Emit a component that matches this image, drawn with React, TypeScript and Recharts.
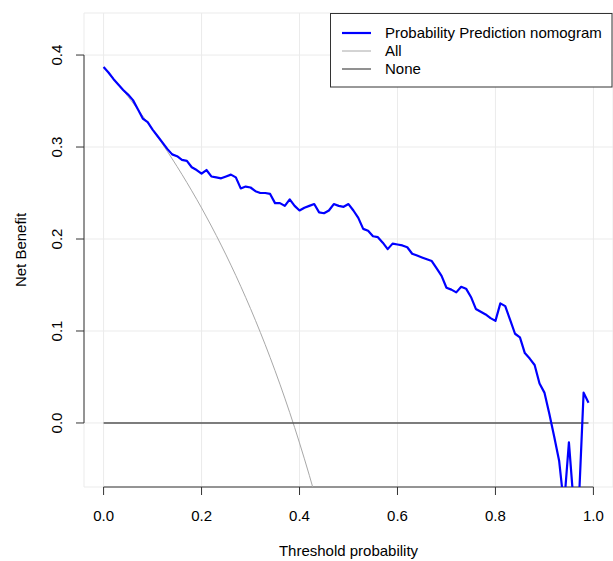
import React from 'react';
import { LineChart, Line, XAxis, YAxis, CartesianGrid, ReferenceLine, Label } from 'recharts';

const thresholds = [
  0.00, 0.01, 0.02, 0.03, 0.04, 0.05, 0.06, 0.07, 0.08, 0.09,
  0.10, 0.11, 0.12, 0.13, 0.14, 0.15, 0.16, 0.17, 0.18, 0.19,
  0.20, 0.21, 0.22, 0.23, 0.24, 0.25, 0.26, 0.27, 0.28, 0.29,
  0.30, 0.31, 0.32, 0.33, 0.34, 0.35, 0.36, 0.37, 0.38, 0.39,
  0.40, 0.41, 0.42, 0.43, 0.44, 0.45, 0.46, 0.47, 0.48, 0.49,
  0.50, 0.51, 0.52, 0.53, 0.54, 0.55, 0.56, 0.57, 0.58, 0.59,
  0.60, 0.61, 0.62, 0.63, 0.64, 0.65, 0.66, 0.67, 0.68, 0.69,
  0.70, 0.71, 0.72, 0.73, 0.74, 0.75, 0.76, 0.77, 0.78, 0.79,
  0.80, 0.81, 0.82, 0.83, 0.84, 0.85, 0.86, 0.87, 0.88, 0.89,
  0.90, 0.91, 0.92, 0.93, 0.94, 0.95, 0.96, 0.97, 0.98, 0.99,
];

const modelNetBenefit = [
  0.387, 0.381, 0.374, 0.368, 0.362, 0.357, 0.351, 0.341, 0.331, 0.327,
  0.319, 0.312, 0.305, 0.298, 0.292, 0.290, 0.286, 0.285, 0.278, 0.275,
  0.271, 0.275, 0.268, 0.267, 0.266, 0.268, 0.270, 0.267, 0.255, 0.257,
  0.256, 0.252, 0.250, 0.250, 0.249, 0.239, 0.239, 0.236, 0.243, 0.236,
  0.231, 0.234, 0.236, 0.238, 0.229, 0.228, 0.231, 0.238, 0.236, 0.235,
  0.238, 0.231, 0.223, 0.211, 0.209, 0.203, 0.202, 0.196, 0.189, 0.195,
  0.194, 0.193, 0.191, 0.184, 0.182, 0.180, 0.178, 0.176, 0.168, 0.160,
  0.147, 0.145, 0.142, 0.148, 0.146, 0.137, 0.124, 0.121, 0.118, 0.114,
  0.111, 0.130, 0.127, 0.112, 0.097, 0.093, 0.076, 0.070, 0.063, 0.043,
  0.033, 0.010, -0.015, -0.041, -0.090, -0.021, -0.090, -0.090, 0.033, 0.022,
];

const allNetBenefit = [
  0.3870, 0.3808, 0.3745, 0.3680, 0.3615, 0.3547, 0.3479, 0.3409, 0.3337, 0.3264,
  0.3189, 0.3112, 0.3034, 0.2954, 0.2872, 0.2788, 0.2702, 0.2614, 0.2524, 0.2432,
  0.2338, 0.2240, 0.2141, 0.2039, 0.1934, 0.1827, 0.1716, 0.1603, 0.1486, 0.1366,
  0.1243, 0.1116, 0.0985, 0.0851, 0.0712, 0.0569, 0.0422, 0.0270, 0.0113, -0.0049,
  -0.0217, -0.0390, -0.0569, -0.0754, -0.0946,
];

const noneNetBenefit = [
  0, 0, 0, 0, 0, 0, 0, 0, 0, 0,
  0, 0, 0, 0, 0, 0, 0, 0, 0, 0,
  0, 0, 0, 0, 0, 0, 0, 0, 0, 0,
  0, 0, 0, 0, 0, 0, 0, 0, 0, 0,
  0, 0, 0, 0, 0, 0, 0, 0, 0, 0,
  0, 0, 0, 0, 0, 0, 0, 0, 0, 0,
  0, 0, 0, 0, 0, 0, 0, 0, 0, 0,
  0, 0, 0, 0, 0, 0, 0, 0, 0, 0,
  0, 0, 0, 0, 0, 0, 0, 0, 0, 0,
  0, 0, 0, 0, 0, 0, 0, 0, 0, 0,
];

const xTicks = [0, 0.2, 0.4, 0.6, 0.8, 1.0];
const yTicks = [0, 0.1, 0.2, 0.3, 0.4];
const seriesNames = ['Probability Prediction nomogram', 'All', 'None'];

const X_MIN = -0.04;
const X_MAX = 1.04;
const Y_MIN = -0.0696;
const Y_MAX = 0.4457;

const FONT = '"Liberation Sans", Arial, Helvetica, sans-serif';
const FS = 15;

const data = thresholds.map((t, i) => ({
  t,
  model: modelNetBenefit[i],
  all: i < allNetBenefit.length ? allNetBenefit[i] : null,
  none: noneNetBenefit[i],
}));

const XTick = (props: any) => {
  const { x, y, payload } = props;
  return (
    <text x={x} y={y + 23.5} textAnchor="middle" fontSize={FS} fontFamily={FONT} fill="#000">
      {Number(payload.value).toFixed(1)}
    </text>
  );
};

const YTick = (props: any) => {
  const { x, y, payload } = props;
  const bx = x - 11.6;
  return (
    <text
      x={bx}
      y={y}
      textAnchor="middle"
      fontSize={FS}
      fontFamily={FONT}
      fill="#000"
      transform={`rotate(-90 ${bx} ${y})`}
    >
      {Number(payload.value).toFixed(1)}
    </text>
  );
};

const XTitle = (props: any) => {
  const vb = props.viewBox || { x: 84, y: 487, width: 529, height: 74 };
  return (
    <text x={vb.x + vb.width / 2} y={vb.y + 69.4} textAnchor="middle" fontSize={FS} fontFamily={FONT} fill="#000">
      Threshold probability
    </text>
  );
};

const YTitle = (props: any) => {
  const vb = props.viewBox || { x: 0, y: 13, width: 84, height: 474 };
  const cx = vb.x + 26.4;
  const cy = vb.y + vb.height / 2;
  return (
    <text x={cx} y={cy} textAnchor="middle" fontSize={FS} fontFamily={FONT} fill="#000" transform={`rotate(-90 ${cx} ${cy})`}>
      Net Benefit
    </text>
  );
};

const legendStyles = [
  { color: '#0000FF', width: 2.2 },
  { color: '#A8A8A8', width: 1 },
  { color: '#555555', width: 1.3 },
];

const LegendBox = () => (
  <svg
    width={283}
    height={75}
    style={{ position: 'absolute', left: 330, top: 13, overflow: 'visible' }}
  >
    <rect x={0.5} y={0.5} width={281.5} height={73.5} fill="#fff" stroke="#333" strokeWidth={1} />
    {seriesNames.map((name, i) => (
      <g key={name}>
        <line x1={12} x2={41} y1={20 + i * 18} y2={20 + i * 18} stroke={legendStyles[i].color} strokeWidth={legendStyles[i].width} />
        <text x={55} y={20 + i * 18 + 5.4} fontSize={FS} fontFamily={FONT} fill="#000">
          {name}
        </text>
      </g>
    ))}
  </svg>
);

export default function App() {
  return (
    <div style={{ position: 'absolute', left: 0, top: 0, width: 613, height: 561, background: '#fff' }}>
      <LineChart width={613} height={561} data={data} margin={{ top: 13, right: 0, bottom: 0, left: 0 }}>
        <CartesianGrid stroke="#EBEBEB" strokeWidth={1} />
        <XAxis
          dataKey="t"
          type="number"
          domain={[X_MIN, X_MAX]}
          ticks={xTicks}
          interval={0}
          allowDataOverflow
          axisLine={false}
          tickLine={{ stroke: '#333', strokeWidth: 1 }}
          tickSize={8}
          height={74}
          tick={<XTick />}
        >
          <Label content={<XTitle />} />
        </XAxis>
        <YAxis
          type="number"
          domain={[Y_MIN, Y_MAX]}
          ticks={yTicks}
          interval={0}
          allowDataOverflow
          axisLine={false}
          tickLine={{ stroke: '#333', strokeWidth: 1 }}
          tickSize={8}
          width={84}
          tick={<YTick />}
        >
          <Label content={<YTitle />} />
        </YAxis>
        <ReferenceLine
          segment={[{ x: 0, y: Y_MIN }, { x: 1, y: Y_MIN }]}
          stroke="#333"
          strokeWidth={1}
          ifOverflow="visible"
        />
        <ReferenceLine
          segment={[{ x: X_MIN, y: 0 }, { x: X_MIN, y: 0.4 }]}
          stroke="#333"
          strokeWidth={1}
          ifOverflow="visible"
        />
        <Line
          dataKey="all"
          name={seriesNames[1]}
          type="linear"
          stroke="#A8A8A8"
          strokeWidth={1}
          dot={false}
          activeDot={false}
          isAnimationActive={false}
        />
        <Line
          dataKey="none"
          name={seriesNames[2]}
          type="linear"
          stroke="#555555"
          strokeWidth={1.3}
          dot={false}
          activeDot={false}
          isAnimationActive={false}
        />
        <Line
          dataKey="model"
          name={seriesNames[0]}
          type="linear"
          stroke="#0000FF"
          strokeWidth={2.2}
          strokeLinejoin="round"
          dot={false}
          activeDot={false}
          isAnimationActive={false}
        />
      </LineChart>
      <LegendBox />
    </div>
  );
}
